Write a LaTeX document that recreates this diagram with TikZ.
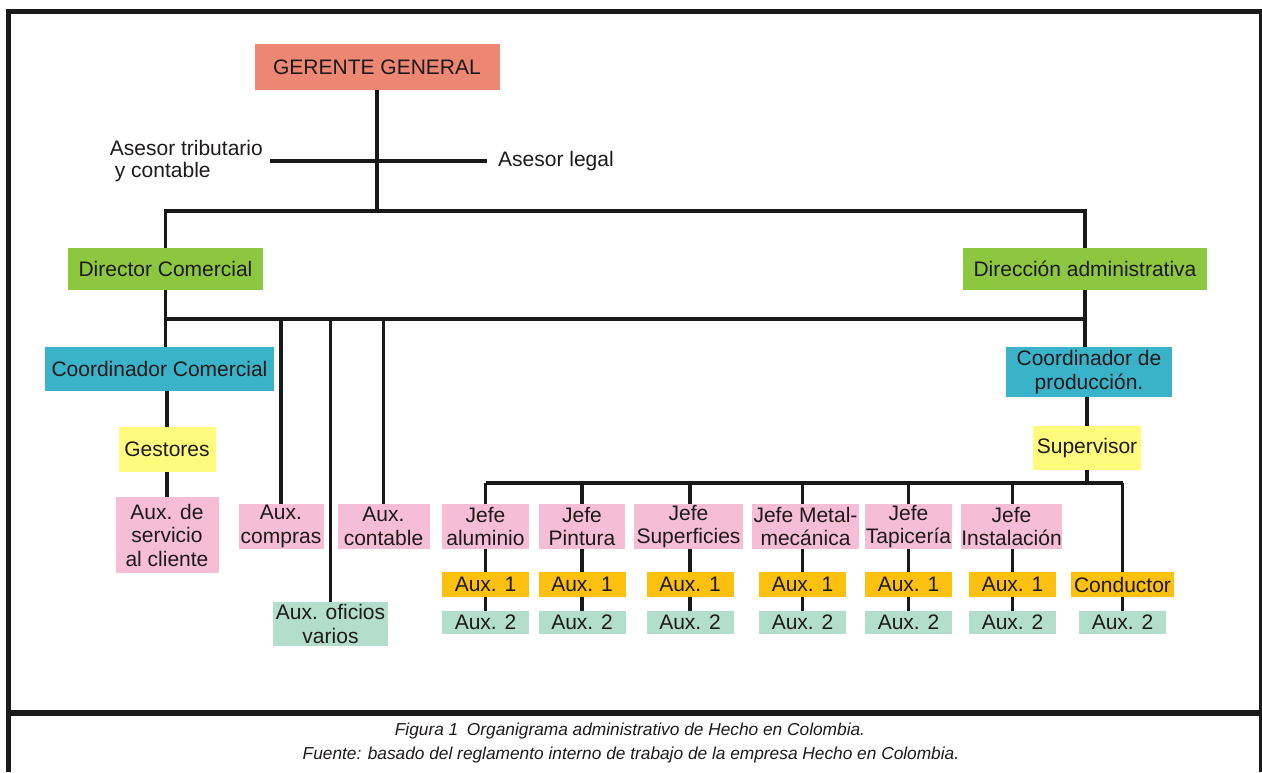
\documentclass[tikz,border=0pt]{standalone}
\usepackage{fontspec}
\setmainfont{Liberation Sans}
\usetikzlibrary{calc}

\definecolor{txt}{RGB}{30,26,27}
\definecolor{framec}{RGB}{28,26,26}
\definecolor{salmon}{RGB}{236,135,115}
\definecolor{greenc}{RGB}{141,198,63}
\definecolor{tealc}{RGB}{58,178,200}
\definecolor{yellowc}{RGB}{255,252,125}
\definecolor{pinkc}{RGB}{246,190,214}
\definecolor{orangec}{RGB}{252,192,14}
\definecolor{mintc}{RGB}{179,222,204}

\tikzset{
  box/.style={draw=none, inner sep=0pt, align=center, text=txt,
    font=\fontsize{21}{23.5}\selectfont},
  plain/.style={inner ysep=0pt, text=txt, font=\fontsize{21}{22}\selectfont},
  conn/.style={draw=black!90, line width=3.2pt},
  jefebox/.style={box, fill=pinkc, minimum height=45pt},
  auxone/.style={box, fill=orangec, minimum width=87pt, minimum height=25pt},
  auxtwo/.style={box, fill=mintc, minimum width=87pt, minimum height=23pt},
  framel/.style={draw=framec},
  caption/.style={inner sep=0pt, text=txt, font=\fontsize{17.3}{19}\selectfont\itshape}
}

\begin{document}
\begin{tikzpicture}[x=1pt,y=-1pt]
\useasboundingbox (0,0) rectangle (1262,772);

% outer frame and caption separator
\draw[framel, line width=5.5pt] (8.5,772) -- (8.5,11.5) -- (1261,11.5);
\draw[framel, line width=3pt] (1260,9) -- (1260,772);
\draw[framel, line width=6pt] (6,712.5) -- (1261,712.5);

% top level
\node[box, fill=salmon, minimum width=245pt, minimum height=46pt] (gg) at (377,67) {GERENTE GENERAL};

% advisors
\node[plain, anchor=east, inner xsep=7pt, align=left] (trib) at (270,161) {Asesor tributario\\\hspace{5pt}y contable};
\node[plain, anchor=west, inner xsep=11pt] (legal) at (487,161) {Asesor legal};

% directors
\node[box, fill=greenc, minimum width=195pt, minimum height=42pt] (dc) at (165.5,269) {Director Comercial};
\node[box, fill=greenc, minimum width=244pt, minimum height=42pt] (da) at (1085,269) {Dirección administrativa};

% commercial branch
\node[box, fill=tealc, minimum width=229pt, minimum height=44pt] (cc) at (159.5,369) {Coordinador Comercial};
\node[box, fill=yellowc, minimum width=97pt, minimum height=45pt] (gest) at (167,449.5) {Gestores};
\node[box, fill=pinkc, minimum width=103pt, minimum height=76pt] (serv) at (167,535) {Aux. de\\servicio\\al cliente};
\node[box, fill=pinkc, minimum width=85pt, minimum height=45pt] (compras) at (281,526.5) {Aux.\\compras};
\node[box, fill=pinkc, minimum width=92pt, minimum height=45pt] (contable) at (383.5,526.5) {Aux.\\contable};
\node[box, fill=mintc, minimum width=115pt, minimum height=44pt] (oficios) at (330.5,624) {Aux. oficios\\varios};

% production branch
\node[box, fill=tealc, minimum width=166pt, minimum height=50pt] (cp) at (1089,372) {Coordinador de\\producción.};
\node[box, fill=yellowc, minimum width=108pt, minimum height=44pt] (sup) at (1087,448) {Supervisor};

\node[jefebox, minimum width=87pt]  (j1) at (485.5,526.5) {Jefe\\aluminio};
\node[jefebox, minimum width=86pt]  (j2) at (582,526.5)   {Jefe\\Pintura};
\node[jefebox, minimum width=109pt] (j3) at (688.5,526.5) {Jefe\\Superficies};
\node[jefebox, minimum width=107pt] (j4) at (805.5,526.5) {Jefe Metal-\\mecánica};
\node[jefebox, minimum width=87pt]  (j5) at (908.5,526.5) {Jefe\\Tapicería};
\node[jefebox, minimum width=101pt] (j6) at (1011.5,526.5) {Jefe\\Instalación};

\node[auxone] (a11) at (485.5,584.5) {Aux. 1};
\node[auxone] (a12) at (582,584.5)   {Aux. 1};
\node[auxone] (a13) at (690,584.5)   {Aux. 1};
\node[auxone] (a14) at (802.5,584.5) {Aux. 1};
\node[auxone] (a15) at (908.5,584.5) {Aux. 1};
\node[auxone] (a16) at (1012.5,584.5) {Aux. 1};
\node[auxone, minimum width=103pt] (cond) at (1122.5,584.5) {Conductor};

\node[auxtwo] (a21) at (485.5,622.5) {Aux. 2};
\node[auxtwo] (a22) at (582,622.5)   {Aux. 2};
\node[auxtwo] (a23) at (690,622.5)   {Aux. 2};
\node[auxtwo] (a24) at (802.5,622.5) {Aux. 2};
\node[auxtwo] (a25) at (908.5,622.5) {Aux. 2};
\node[auxtwo] (a26) at (1012.5,622.5) {Aux. 2};
\node[auxtwo] (a27) at (1122.5,622.5) {Aux. 2};

% bus levels
\coordinate (b1) at (0,211);
\coordinate (b2) at (0,319);
\coordinate (b3) at (0,483);

% connectors: top
\draw[conn] (gg.south) -- (gg.south |- b1);
\draw[conn] (trib.east) -- (legal.west);
\draw[conn] (dc.north) -- (dc.north |- b1) -| (da.north);

% connectors: second bus
\draw[conn] (dc.south) -- (dc.south |- cc.north);
\draw[conn] (dc.south |- b2) -- (da.south |- b2);
\draw[conn] (da.south) -- (da.south |- cp.north);
\draw[conn] (compras.north |- b2) -- (compras.north);
\draw[conn] (oficios.north |- b2) -- (oficios.north);
\draw[conn] (contable.north |- b2) -- (contable.north);

% commercial chain
\draw[conn] (cc.south -| gest.north) -- (gest.north);
\draw[conn] (gest.south) -- (serv.north);

% production chain
\draw[conn] (cp.south -| sup.north) -- (sup.north);
\draw[conn] (sup.south) -- (sup.south |- b3);
\draw[conn] (a11.north |- b3) -- (cond.north |- b3);
\foreach \j/\a/\b in {j1/a11/a21, j2/a12/a22, j3/a13/a23, j4/a14/a24, j5/a15/a25, j6/a16/a26}{
  \draw[conn] (\a.north |- b3) -- (\a.north |- \j.north);
  \draw[conn] (\a.north |- \j.south) -- (\a.north);
  \draw[conn] (\a.south) -- (\b.north);
}
\draw[conn] (cond.north |- b3) -- (cond.north);
\draw[conn] (cond.south) -- (a27.north);

% caption
\node[caption] (cap1) at (630,731) {Figura 1\enspace Organigrama administrativo de Hecho en Colombia.};
\node[caption] (cap2) at (631,755) {Fuente: basado del reglamento interno de trabajo de la empresa Hecho en Colombia.};
\end{tikzpicture}
\end{document}
